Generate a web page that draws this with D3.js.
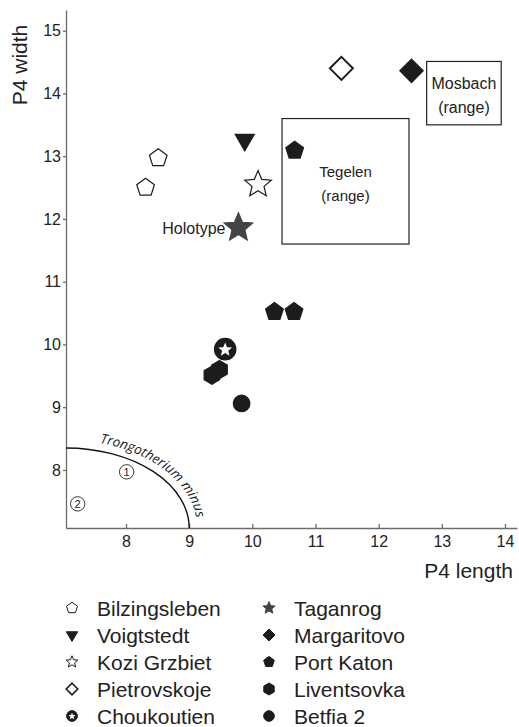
<!DOCTYPE html>
<html>
<head>
<meta charset="utf-8">
<script src="https://cdn.jsdelivr.net/npm/d3@7"></script>
<style>
  html, body { margin: 0; padding: 0; background: #fff; }
  svg { display: block; font-family: "Liberation Sans", Arial, Helvetica, sans-serif; }
  .axis path, .axis line { stroke: #6b6b6b; stroke-width: 1.3; }
  .axis text { fill: #222; font-size: 16px; font-family: "Liberation Sans", Arial, sans-serif; }
</style>
</head>
<body>
<svg id="chart"></svg>
<script>
// ── data ────────────────────────────────────────────────────────────────────
const legendLeft  = ["Bilzingsleben", "Voigtstedt", "Kozi Grzbiet", "Pietrovskoje", "Choukoutien"];
const legendRight = ["Taganrog", "Margaritovo", "Port Katon", "Liventsovka", "Betfia 2"];

const pointSite   = ["Bilzingsleben", "Bilzingsleben", "Voigtstedt", "Kozi Grzbiet", "Taganrog",
                     "Pietrovskoje", "Margaritovo", "Port Katon", "Port Katon", "Port Katon",
                     "Choukoutien", "Liventsovka", "Liventsovka", "Betfia 2"];
const pointLength = [8.51, 8.31, 9.88, 10.09, 9.78, 11.41, 12.52, 10.67, 10.35, 10.66, 9.57, 9.36, 9.48, 9.83];
const pointWidth  = [12.97, 12.50, 13.26, 12.55, 11.86, 14.40, 14.36, 13.09, 10.52, 10.52, 9.925, 9.51, 9.60, 9.06];

// range boxes: [minLength, maxLength, minWidth, maxWidth]
const rangeNames  = ["Tegelen", "Mosbach"];
const rangeBoxes  = [[10.47, 12.48, 11.60, 13.60], [12.76, 13.94, 13.50, 14.51]];

// Trongotherium minus field (quarter ellipse from the lower-left corner)
const minusEdge   = [9.0, 8.35];           // length where it meets x axis, width where it meets y axis
const minusMarks  = [["1", 8.01, 7.97], ["2", 7.235, 7.46]];

const xTicks = [8, 9, 10, 11, 12, 13, 14];
const yTicks = [8, 9, 10, 11, 12, 13, 14, 15];

// ── styles per site ────────────────────────────────────────────────────────
const INK = "#1c1c1c";
const siteStyle = {
  "Bilzingsleben": { shape: "pentagon", fill: "#fff", stroke: INK, r: 9.3, lr: 5.8 },
  "Voigtstedt":    { shape: "triangle", fill: INK, stroke: INK, r: 11, lr: 6.5 },
  "Kozi Grzbiet":  { shape: "star", fill: "#fff", stroke: INK, r: 14, lr: 6.2 },
  "Pietrovskoje":  { shape: "diamond", fill: "#fff", stroke: INK, r: 11.5, lr: 5.8, sw: 2 },
  "Choukoutien":   { shape: "circleStar", fill: INK, stroke: INK, r: 10.7, lr: 5.4 },
  "Taganrog":      { shape: "star", fill: "#444", stroke: "#444", r: 15, lr: 6.4 },
  "Margaritovo":   { shape: "diamond", fill: INK, stroke: INK, r: 11.7, lr: 6 },
  "Port Katon":    { shape: "pentagon", fill: INK, stroke: INK, r: 9.3, lr: 5.6 },
  "Liventsovka":   { shape: "hexagon", fill: INK, stroke: INK, r: 9, lr: 6 },
  "Betfia 2":      { shape: "circle", fill: INK, stroke: INK, r: 8.3, lr: 5.3 }
};

function polygon(n, r, rot) {
  const pts = d3.range(n).map(i => {
    const a = rot + i * 2 * Math.PI / n;
    return [r * Math.cos(a), r * Math.sin(a)];
  });
  return "M" + pts.map(p => p.join(",")).join("L") + "Z";
}
function star(r, inner) {
  const pts = d3.range(10).map(i => {
    const a = -Math.PI / 2 + i * Math.PI / 5, rr = i % 2 ? r * inner : r;
    return [rr * Math.cos(a), rr * Math.sin(a)];
  });
  return "M" + pts.map(p => p.join(",")).join("L") + "Z";
}
function circle(r) {
  return `M${-r},0A${r},${r} 0 1,0 ${r},0A${r},${r} 0 1,0 ${-r},0Z`;
}

function drawMarker(g, site, r, legend) {
  const s = siteStyle[site];
  const sw = legend ? 1 : (s.sw || 1.2);
  if (s.shape === "pentagon") g.append("path").attr("d", polygon(5, r, -Math.PI / 2));
  else if (s.shape === "triangle") g.append("path").attr("d", polygon(3, r, Math.PI / 2));
  else if (s.shape === "star") g.append("path").attr("d", star(r, 0.45));
  else if (s.shape === "diamond") g.append("path").attr("d", polygon(4, r, -Math.PI / 2));
  else if (s.shape === "hexagon") g.append("path").attr("d", polygon(6, r, -Math.PI / 2));
  else if (s.shape === "circle" || s.shape === "circleStar") g.append("path").attr("d", circle(r));
  g.selectAll("path").attr("fill", s.fill).attr("stroke", s.stroke)
    .attr("stroke-width", legend && s.sw ? 1.6 : sw).attr("stroke-linejoin", "miter");
  if (s.shape === "circleStar") {
    g.append("path").attr("d", star(r * 0.68, 0.45)).attr("transform", `translate(0,${r * 0.06})`).attr("fill", "#fff").attr("stroke", "none");
  }
}

// ── layout ─────────────────────────────────────────────────────────────────
const W = 519, H = 727;
const svg = d3.select("#chart").attr("width", W).attr("height", H);

const x = d3.scaleLinear().domain([7.05, 14.19]).range([66, 517]);
const y = d3.scaleLinear().domain([7.075, 15.33]).range([528, 10]);

// axes
svg.append("g").attr("class", "axis").attr("transform", `translate(0,${y.range()[0]})`)
  .call(d3.axisBottom(x).tickValues(xTicks).tickSizeInner(-4).tickSizeOuter(0).tickPadding(8).tickFormat(d3.format("d")));
svg.append("g").attr("class", "axis").attr("transform", `translate(${x.range()[0]},0)`)
  .call(d3.axisLeft(y).tickValues(yTicks).tickSizeInner(3).tickSizeOuter(0).tickPadding(2).tickFormat(d3.format("d")));

svg.append("text").attr("x", 513).attr("y", 578).attr("text-anchor", "end")
  .attr("font-size", 21).attr("fill", "#222").text("P4 length");
svg.append("text").attr("transform", "translate(27,65) rotate(-90)").attr("text-anchor", "middle")
  .attr("font-size", 21).attr("fill", "#222").text("P4 width");

// Trongotherium minus field
const cx0 = x(x.domain()[0]), cy0 = y(y.domain()[0]);
const rx = x(minusEdge[0]) - cx0, ry = cy0 - y(minusEdge[1]);
svg.append("path")
  .attr("d", `M${cx0},${cy0 - ry}A${rx},${ry} 0 0 1 ${cx0 + rx},${cy0}`)
  .attr("fill", "none").attr("stroke", "#111").attr("stroke-width", 1.4);
const off = 8;
svg.append("path").attr("id", "minusPath")
  .attr("d", `M${cx0},${cy0 - ry - off}A${rx + off},${ry + off} 0 0 1 ${cx0 + rx + off},${cy0}`)
  .attr("fill", "none").attr("stroke", "none");
svg.append("text").attr("font-family", "'Open Sans', 'DejaVu Sans', sans-serif").attr("font-style", "italic")
  .attr("font-size", 13.5).attr("fill", "#222")
  .append("textPath").attr("href", "#minusPath").attr("startOffset", 34).text("Trongotherium minus");

minusMarks.forEach(([lab, lx, ly]) => {
  svg.append("circle").attr("cx", x(lx)).attr("cy", y(ly)).attr("r", 7.2)
    .attr("fill", "#fff").attr("stroke", "#222").attr("stroke-width", 0.9);
  svg.append("text").attr("x", x(lx)).attr("y", y(ly)).attr("dy", "0.36em").attr("text-anchor", "middle")
    .attr("font-size", 11).attr("fill", "#222").text(lab);
});

// range boxes
rangeBoxes.forEach((b, i) => {
  const x0 = x(b[0]), x1 = x(b[1]), y0 = y(b[3]), y1 = y(b[2]);
  svg.append("rect").attr("x", x0).attr("y", y0).attr("width", x1 - x0).attr("height", y1 - y0)
    .attr("fill", "none").attr("stroke", "#222").attr("stroke-width", 1.2);
  const cx = (x0 + x1) / 2, cy = (y0 + y1) / 2;
  svg.append("text").attr("x", cx).attr("y", cy - 4.5).attr("text-anchor", "middle")
    .attr("font-size", i === 0 ? 15 : 16).attr("fill", "#222").text(rangeNames[i]);
  svg.append("text").attr("x", cx).attr("y", cy + 19.5).attr("text-anchor", "middle")
    .attr("font-size", i === 0 ? 15 : 16).attr("fill", "#222").text("(range)");
});

// points
pointSite.forEach((site, i) => {
  const g = svg.append("g").attr("transform", `translate(${x(pointLength[i])},${y(pointWidth[i])})`);
  drawMarker(g, site, siteStyle[site].r, false);
});

// holotype label
const hi = pointSite.indexOf("Taganrog");
svg.append("text").attr("x", x(pointLength[hi]) - 13).attr("y", y(pointWidth[hi]) + 6)
  .attr("text-anchor", "end").attr("font-size", 16).attr("fill", "#222").text("Holotype");

// legend
const rowY = d3.scalePoint().domain(d3.range(5)).range([608, 716]);
[[legendLeft, 72, 97], [legendRight, 269, 294]].forEach(([names, sx, tx]) => {
  names.forEach((name, i) => {
    const g = svg.append("g").attr("transform", `translate(${sx},${rowY(i)})`);
    drawMarker(g, name, siteStyle[name].lr, true);
    svg.append("text").attr("x", tx).attr("y", rowY(i)).attr("dy", "0.36em")
      .attr("font-size", 21).attr("fill", "#222").text(name);
  });
});
</script>
</body>
</html>
